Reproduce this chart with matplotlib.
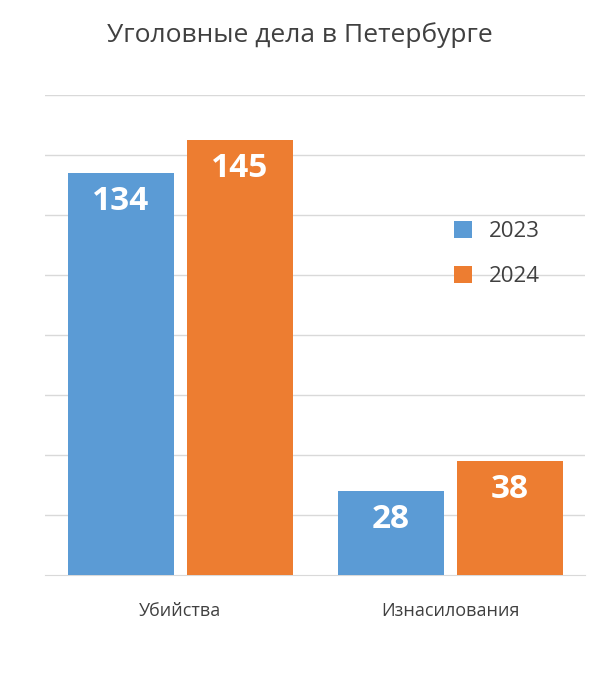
import matplotlib
matplotlib.use("Agg")
import matplotlib.pyplot as plt
import numpy as np

categories = ["Убийства", "Изнасилования"]
series_names = ["2023", "2024"]
values_2023 = [134, 28]
values_2024 = [145, 38]
colors = ["#5B9BD5", "#ED7D31"]

plt.rcParams['font.family'] = ['Open Sans', 'DejaVu Sans']
fig = plt.figure(figsize=(5.99, 7.0), dpi=100)
ax = fig.add_axes([45/599, 1-575/700, 540/599, 480/700])
x = np.arange(len(categories))
w = 106/270
gap = 13/270
for i, (vals, c, name) in enumerate(zip([values_2023, values_2024], colors, series_names)):
    off = (-(w+gap)/2) if i == 0 else ((w+gap)/2)
    bars = ax.bar(x + off, vals, width=w, color=c, label=name, zorder=3)
    for b, v in zip(bars, vals):
        ax.text(b.get_x()+b.get_width()/2, v - 4, str(v), ha='center', va='top',
                color='white', fontsize=24, fontweight='bold', zorder=4)
ax.set_xlim(-0.5, 1.5)
ax.set_ylim(0, 160)
ax.set_yticks(np.arange(20, 161, 20))
ax.yaxis.grid(True, color='#D9D9D9', linewidth=1, zorder=0)
ax.tick_params(left=False, labelleft=False, bottom=False)
ax.set_xticks(x)
ax.set_xticklabels(categories, fontsize=13, color='#404040')
ax.tick_params(axis='x', pad=16)
for s in ['top', 'right', 'left']:
    ax.spines[s].set_visible(False)
ax.spines['bottom'].set_color('#D9D9D9')
leg = ax.legend(loc='upper left', bbox_to_anchor=(0.72, 0.78), frameon=False,
                fontsize=16, handlelength=0.8, handleheight=0.8, labelspacing=1.1,
                labelcolor='#404040')
fig.text(0.5, 1-35/700, "Уголовные дела в Петербурге", ha='center', va='center',
         fontsize=19, color='#404040')
fig.savefig("out.png", dpi=100)
